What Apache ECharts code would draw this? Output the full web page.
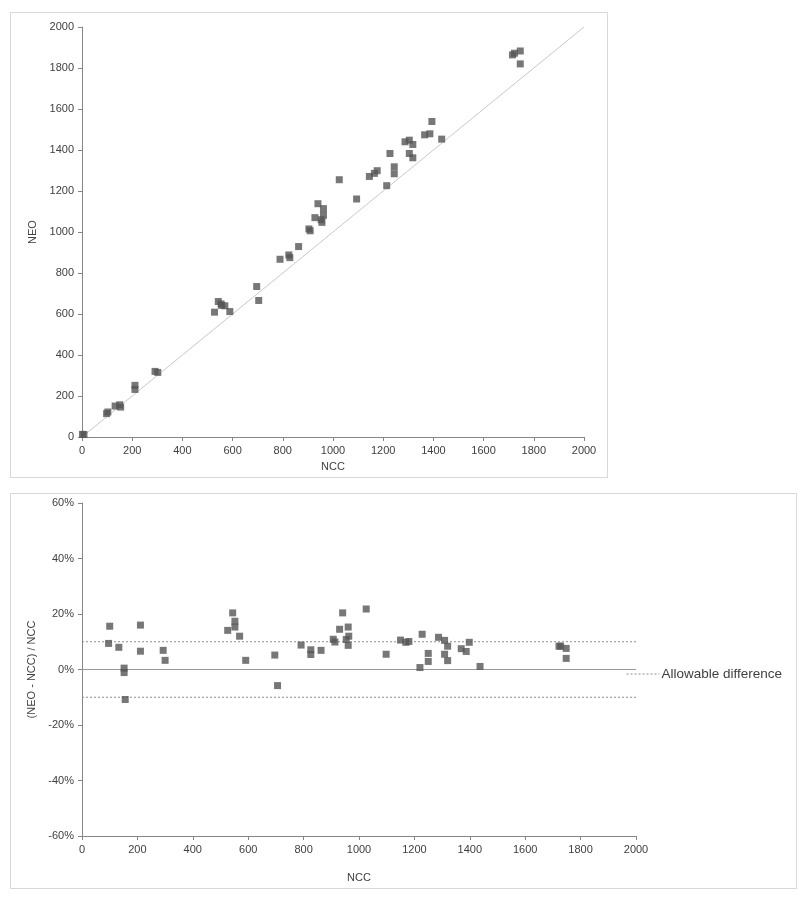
<!DOCTYPE html>
<html>
<head>
<meta charset="utf-8">
<script src="https://cdn.jsdelivr.net/npm/echarts@6/dist/echarts.min.js"></script>
<style>
  html, body { margin:0; padding:0; background:#fff; width:803px; height:899px; overflow:hidden; }
  #c1 { position:absolute; left:10px; top:12px; width:598px; height:466px; border:1px solid #d9d9d9; box-sizing:border-box; }
  #c2 { position:absolute; left:10px; top:493px; width:787px; height:396px; border:1px solid #d9d9d9; box-sizing:border-box; }
</style>
</head>
<body>
<div id="c1"></div>
<div id="c2"></div>
<script>
// ---- Top chart data: NCC vs NEO ----
var topNCC = [2, 8, 98, 103, 132, 150, 154, 211, 211, 291, 302, 528, 543, 554, 556, 569, 589, 696, 704, 789, 824, 828, 863, 904, 909, 928, 940, 953, 956, 962, 962, 1025, 1094, 1145, 1165, 1176, 1214, 1227, 1244, 1244, 1287, 1304, 1304, 1318, 1318, 1365, 1386, 1394, 1433, 1715, 1723, 1746, 1746];
var topNEO = [13, 12, 114, 122, 151, 157, 146, 252, 232, 320, 315, 609, 661, 649, 642, 640, 612, 734, 666, 867, 888, 875, 929, 1015, 1006, 1070, 1138, 1060, 1047, 1114, 1081, 1255, 1161, 1271, 1286, 1299, 1226, 1383, 1318, 1284, 1440, 1448, 1383, 1427, 1362, 1474, 1479, 1539, 1453, 1864, 1872, 1883, 1820];
var identityLine = [[0, 0], [2000, 2000]];

// ---- Bottom chart data: NCC vs relative difference (%) ----
var diffNCC = [100, 96, 133, 152, 152, 156, 211, 211, 293, 300, 526, 544, 552, 552, 569, 591, 696, 706, 791, 826, 826, 863, 907, 913, 930, 941, 954, 961, 963, 961, 1026, 1098, 1150, 1169, 1180, 1220, 1228, 1250, 1250, 1287, 1309, 1309, 1320, 1320, 1369, 1387, 1398, 1437, 1722, 1728, 1748, 1748];
var diffPct = [15.6, 9.4, 8.0, 0.5, -1.1, -10.8, 16.0, 6.6, 6.9, 3.3, 14.1, 20.4, 17.4, 15.3, 12.0, 3.3, 5.2, -5.8, 8.8, 7.1, 5.4, 6.9, 10.9, 9.9, 14.5, 20.4, 10.8, 15.3, 12.0, 8.7, 21.8, 5.5, 10.6, 9.8, 10.1, 0.7, 12.7, 5.8, 2.9, 11.6, 10.5, 5.5, 8.4, 3.2, 7.5, 6.5, 9.8, 1.1, 8.4, 8.4, 7.6, 4.0];
var allowUpper = [[0, 10], [2000, 10]];
var allowLower = [[0, -10], [2000, -10]];
var zeroLine = [[0, 0], [2000, 0]];

var FONT = 'Liberation Sans';
var TXT = '#404040';
var AXC = '#868686';

function zip(a, b) { return a.map(function (v, i) { return [v, b[i]]; }); }
function plain(v) { return String(v); }

var c1 = echarts.init(document.getElementById('c1'), null, { renderer: 'canvas' });
c1.setOption({
  animation: false,
  textStyle: { fontFamily: FONT },
  grid: { left: 71, top: 14, width: 502, height: 411 },
  xAxis: {
    type: 'value', min: 0, max: 2000, interval: 200,
    name: 'NCC', nameLocation: 'middle', nameGap: 24,
    nameTextStyle: { color: TXT, fontSize: 11, fontFamily: FONT },
    axisLine: { show: true, lineStyle: { color: AXC } },
    axisTick: { show: true, length: 4, lineStyle: { color: AXC } },
    axisLabel: { color: TXT, fontSize: 11, margin: 8, formatter: plain },
    splitLine: { show: false }
  },
  yAxis: {
    type: 'value', min: 0, max: 2000, interval: 200,
    name: 'NEO', nameLocation: 'middle', nameGap: 40, nameRotate: 90,
    nameTextStyle: { color: TXT, fontSize: 11, fontFamily: FONT },
    axisLine: { show: true, lineStyle: { color: AXC } },
    axisTick: { show: true, length: 4, lineStyle: { color: AXC } },
    axisLabel: { color: TXT, fontSize: 11, margin: 8, formatter: plain },
    splitLine: { show: false }
  },
  series: [
    { type: 'line', data: identityLine, symbol: 'none', lineStyle: { color: '#c8c8c8', width: 1 }, silent: true, z: 1 },
    { type: 'scatter', data: zip(topNCC, topNEO), symbol: 'rect', symbolSize: 7, itemStyle: { color: '#555555' }, z: 2 }
  ]
});

var c2 = echarts.init(document.getElementById('c2'), null, { renderer: 'canvas' });
c2.setOption({
  animation: false,
  textStyle: { fontFamily: FONT },
  grid: { left: 71, top: 9, width: 554, height: 338 },
  legend: {
    show: true, orient: 'horizontal',
    left: 610, top: 168, itemWidth: 33, itemHeight: 8, itemGap: 4,
    itemStyle: { color: 'rgba(0,0,0,0)', borderWidth: 0, opacity: 0 },
    lineStyle: { width: 1 },
    textStyle: { color: TXT, fontSize: 13.5, fontFamily: FONT, padding: [0, 0, 0, -3] },
    data: ['Allowable difference']
  },
  xAxis: {
    type: 'value', min: 0, max: 2000, interval: 200,
    name: 'NCC', nameLocation: 'middle', nameGap: 36,
    nameTextStyle: { color: TXT, fontSize: 11, fontFamily: FONT },
    axisLine: { show: true, onZero: false, lineStyle: { color: AXC } },
    axisTick: { show: true, length: 4, lineStyle: { color: AXC } },
    axisLabel: { color: TXT, fontSize: 11, margin: 8, formatter: plain },
    splitLine: { show: false }
  },
  yAxis: {
    type: 'value', min: -60, max: 60, interval: 20,
    name: '(NEO - NCC) / NCC', nameLocation: 'middle', nameGap: 42, nameRotate: 90,
    nameTextStyle: { color: TXT, fontSize: 11, fontFamily: FONT },
    axisLine: { show: true, lineStyle: { color: AXC } },
    axisTick: { show: true, length: 4, lineStyle: { color: AXC } },
    axisLabel: { color: TXT, fontSize: 11, margin: 8, formatter: '{value}%' },
    splitLine: { show: false }
  },
  series: [
    { name: 'zero', type: 'line', data: zeroLine, symbol: 'none', lineStyle: { color: '#9a9a9a', width: 1 }, silent: true, z: 1 },
    { name: 'Allowable difference', type: 'line', data: allowUpper, symbol: 'none', lineStyle: { color: '#8c8c8c', width: 1, type: [2, 2] }, itemStyle: { color: '#8c8c8c' }, silent: true, z: 1 },
    { name: 'Allowable difference', type: 'line', data: allowLower, symbol: 'none', lineStyle: { color: '#8c8c8c', width: 1, type: [2, 2] }, itemStyle: { color: '#8c8c8c' }, silent: true, z: 1 },
    { name: 'pts', type: 'scatter', data: zip(diffNCC, diffPct), symbol: 'rect', symbolSize: 7, itemStyle: { color: '#555555' }, z: 2 }
  ]
});
</script>
</body>
</html>
